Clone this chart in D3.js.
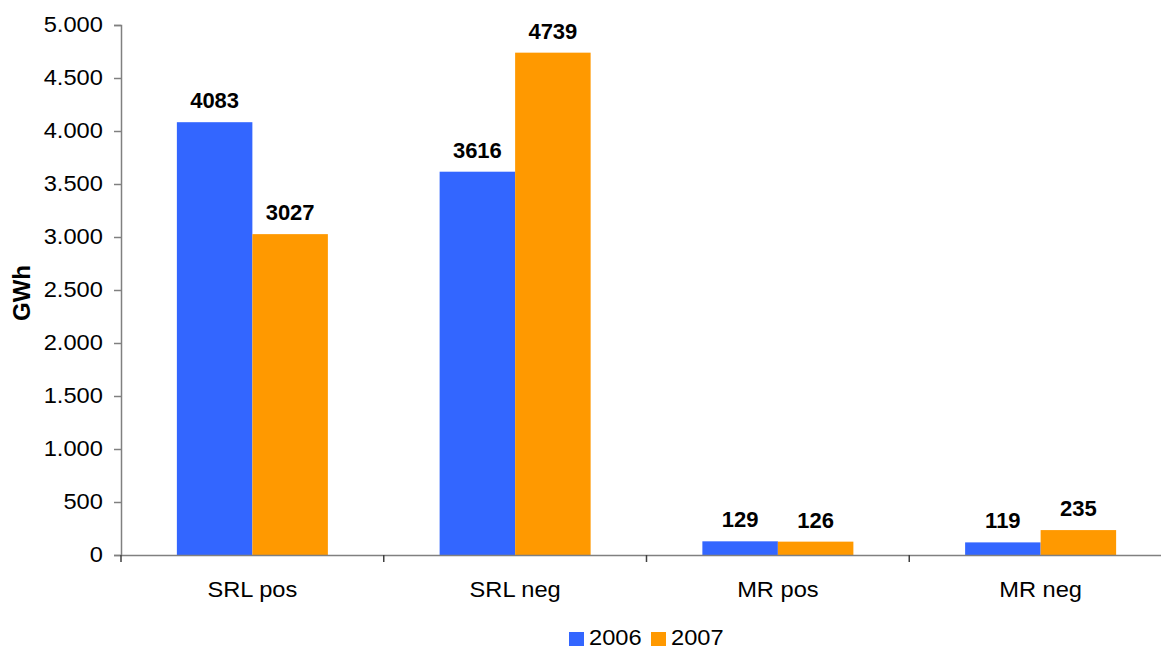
<!DOCTYPE html>
<html>
<head>
<meta charset="utf-8">
<script src="https://cdn.jsdelivr.net/npm/d3@7"></script>
<style>
  html, body { margin: 0; padding: 0; background: #fff; }
  svg { display: block; font-family: "Liberation Sans", Arial, sans-serif; }
</style>
</head>
<body>
<svg id="chart" width="1161" height="646"></svg>
<script>
// Balancing energy per product, 2006 vs 2007
const categories = ["SRL pos", "SRL neg", "MR pos", "MR neg"];
const years = ["2006", "2007"];
const values2006 = [4083, 3616, 129, 119];
const values2007 = [3027, 4739, 126, 235];
const yTicks = [0, 500, 1000, 1500, 2000, 2500, 3000, 3500, 4000, 4500, 5000];
const colors = ["#3366FF", "#FF9900"];
const seriesValues = [values2006, values2007];

const svg = d3.select("#chart");
const plotLeft = 121, plotRight = 1172, plotTop = 25, plotBottom = 555;
const stretch = 1.1; // slightly wide lettering for axis and legend text

const y = d3.scaleLinear().domain([0, 5000]).range([plotBottom, plotTop]);
const x0 = d3.scaleBand().domain(categories).range([plotLeft, plotRight]).padding(0);
const x1 = d3.scaleBand().domain(years).range([0, x0.bandwidth()])
  .paddingInner(0).paddingOuter(0.74);

const fmt = d => d3.format(",")(d).replace(/,/g, ".");

// y axis
const yAxis = svg.append("g")
  .attr("transform", `translate(${plotLeft},0)`)
  .call(d3.axisLeft(y).tickValues(yTicks).tickFormat(fmt).tickSizeOuter(0).tickSize(7).tickPadding(9.5));
yAxis.select(".domain").attr("stroke", "#808080").attr("stroke-width", 1.5);
yAxis.selectAll(".tick line").attr("stroke", "#808080").attr("stroke-width", 1.5);
yAxis.selectAll(".tick text")
  .attr("font-size", 21.5).attr("fill", "#000")
  .attr("font-family", "Liberation Sans, Arial, sans-serif")
  .attr("transform", `scale(${stretch},1)`);

// bars with value labels
categories.forEach((cat, i) => {
  years.forEach((yr, j) => {
    const v = seriesValues[j][i];
    svg.append("rect")
      .attr("x", x0(cat) + x1(yr))
      .attr("y", y(v))
      .attr("width", x1.bandwidth())
      .attr("height", y(0) - y(v))
      .attr("fill", colors[j]);
    svg.append("text")
      .attr("x", x0(cat) + x1(yr) + x1.bandwidth() / 2)
      .attr("y", y(v) - 14)
      .attr("text-anchor", "middle")
      .attr("font-size", 22)
      .attr("font-weight", "bold")
      .text(v);
  });
});

// x axis
const xAxis = svg.append("g")
  .attr("transform", `translate(0,${plotBottom})`)
  .call(d3.axisBottom(x0).tickSize(0));
xAxis.select(".domain").attr("stroke", "#808080").attr("stroke-width", 1.5);
xAxis.selectAll(".tick text")
  .attr("font-size", 21.5).attr("fill", "#000")
  .attr("font-family", "Liberation Sans, Arial, sans-serif")
  .attr("y", 42).attr("dy", null)
  .attr("transform", `scale(${stretch},1)`);
// boundary ticks between categories
svg.append("g").selectAll("line")
  .data(categories)
  .join("line")
  .attr("x1", d => x0(d)).attr("x2", d => x0(d))
  .attr("y1", plotBottom).attr("y2", plotBottom + 7)
  .attr("stroke", "#404040").attr("stroke-width", 1.5);

// y axis title
svg.append("text")
  .attr("transform", `translate(30,293) rotate(-90)`)
  .attr("text-anchor", "middle")
  .attr("font-size", 24)
  .attr("font-weight", "bold")
  .text("GWh");

// legend
const legend = svg.append("g");
const legendX = [569, 651];
years.forEach((yr, j) => {
  legend.append("rect")
    .attr("x", legendX[j]).attr("y", 632)
    .attr("width", 15).attr("height", 15)
    .attr("fill", colors[j]);
  legend.append("text")
    .attr("transform", `translate(${legendX[j] + 20},645) scale(${stretch},1)`)
    .attr("font-size", 21.5)
    .text(yr);
});
</script>
</body>
</html>
